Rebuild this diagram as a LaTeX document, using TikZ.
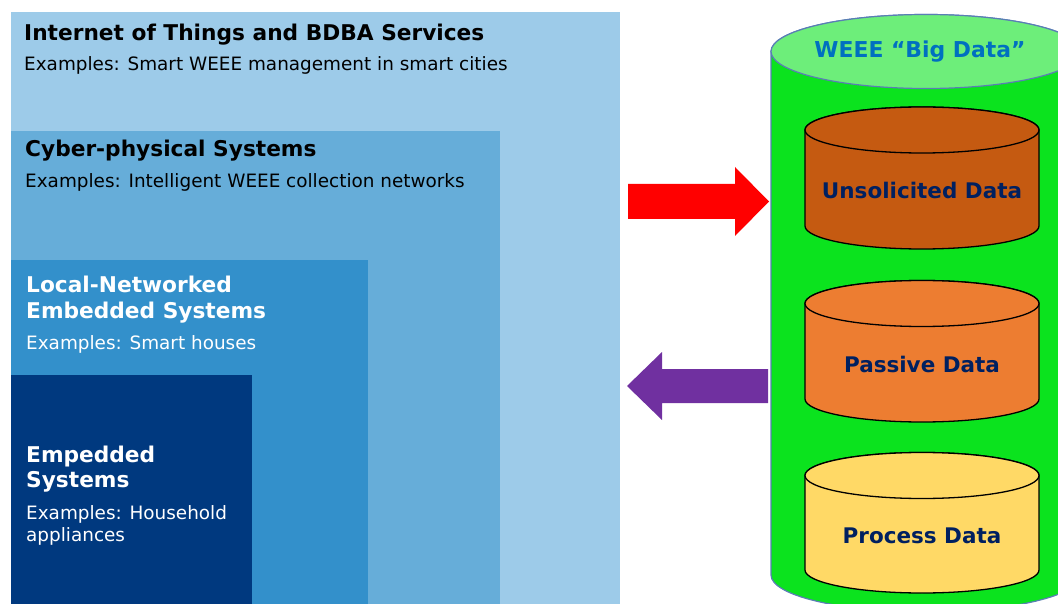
\documentclass[tikz,border=0pt]{standalone}
\usepackage{fontspec}
\setmainfont{DejaVu Sans}
\definecolor{layerA}{HTML}{9DCBE9}
\definecolor{layerB}{HTML}{66ADD9}
\definecolor{layerC}{HTML}{3390CB}
\definecolor{layerD}{HTML}{00397F}
\definecolor{bigbody}{HTML}{0BE31E}
\definecolor{bigtop}{HTML}{6DEE7A}
\definecolor{bigline}{HTML}{5A7EB5}
\definecolor{unsol}{HTML}{C55A11}
\definecolor{passv}{HTML}{ED7D31}
\definecolor{procs}{HTML}{FFD966}
\definecolor{navy}{HTML}{002060}
\definecolor{wblue}{HTML}{0070C0}
\definecolor{arrowred}{HTML}{FF0000}
\definecolor{arrowpurple}{HTML}{7030A0}
\tikzset{
  ttl/.style={font=\fontsize{21.7}{26}\selectfont\bfseries, anchor=base west, inner sep=0pt},
  ex/.style={font=\fontsize{18.4}{22}\selectfont, anchor=base west, inner sep=0pt},
  dblabel/.style={font=\fontsize{21.5}{26}\selectfont\bfseries, text=navy, inner sep=0pt},
}
% cylinder body: #1 centre x, #2 top centre y, #3 bottom centre y, #4 x radius, #5 y radius
\newcommand{\dbbody}[6][]{%
  \path[#1] (#2-#5,#3) -- (#2-#5,#4)
    arc[start angle=180,end angle=360,x radius=#5pt,y radius=#6pt]
    -- (#2+#5,#3)
    arc[start angle=0,end angle=180,x radius=#5pt,y radius=#6pt] -- cycle;
  \path[#1] (#2,#3) ellipse[x radius=#5pt,y radius=#6pt];
}
\begin{document}
\begin{tikzpicture}[x=1pt,y=-1pt]
\useasboundingbox (0,0) rectangle (1058,604);
\clip (0,0) rectangle (1058,604);

% nested layers
\fill[layerA] (11,12) rectangle (620,610);
\fill[layerB] (11,131) rectangle (500,610);
\fill[layerC] (11,260) rectangle (368,610);
\fill[layerD] (11,375) rectangle (252,610);

\node[ttl] (iotT) at (24,41) {Internet of Things and BDBA Services};
\node[ex]  (iotE) at (24,71) {Examples: Smart WEEE management in smart cities};

\node[ttl] (cpsT) at (25,157) {Cyber-physical Systems};
\node[ex]  (cpsE) at (25,188) {Examples: Intelligent WEEE collection networks};

\node[ttl, text=white] (lneT1) at (26,292) {Local-Networked};
\node[ttl, text=white] (lneT2) at (26,318) {Embedded Systems};
\node[ex,  text=white] (lneE)  at (26,349) {Examples: Smart houses};

\node[ttl, text=white] (embT1) at (26,462) {Empedded};
\node[ttl, text=white] (embT2) at (26,487) {Systems};
\node[ex,  text=white] (embE1) at (26,519) {Examples: Household};
\node[ex,  text=white] (embE2) at (26,541) {appliances};

% big data store
\path[fill=bigbody, draw=bigline, line width=1.2pt]
  (771,51.5) -- (771,575)
  arc[start angle=180,end angle=360,x radius=155pt,y radius=37pt]
  -- (1081,51.5)
  arc[start angle=0,end angle=180,x radius=155pt,y radius=37pt] -- cycle;
\path[fill=bigtop, draw=bigline, line width=1.2pt] (926,51.5) ellipse[x radius=155pt,y radius=37pt];
\node[font=\fontsize{21.9}{26}\selectfont\bfseries, text=wblue, inner sep=0pt] (big) at (920,52) {WEEE “Big Data”};

% inner data stores
\foreach \fc/\ty/\by in {unsol/130/226, passv/303.5/399, procs/475.5/570}{
  \path[fill=\fc, draw=black, line width=1.3pt]
    (805,\ty) -- (805,\by)
    arc[start angle=180,end angle=360,x radius=117pt,y radius=23pt]
    -- (1039,\ty)
    arc[start angle=0,end angle=180,x radius=117pt,y radius=23pt] -- cycle;
  \path[fill=\fc, draw=black, line width=1.3pt] (922,\ty) ellipse[x radius=117pt,y radius=23pt];
}
\node[dblabel] (unsolicited) at (922,190) {Unsolicited Data};
\node[dblabel] (passive) at (922,364) {Passive Data};
\node[dblabel] (process) at (922,536) {Process Data};

% block arrows between the layers and the data store
\coordinate (inTail) at (628,201.5);
\coordinate (inTip) at (769,201.5);
\fill[arrowred] (inTail) ++(0,-17.5) -- ++(107,0) -- ++(0,-17) -- (inTip)
  -- ++(-34,34.5) -- ++(0,-17) -- ++(-107,0) -- cycle;

\coordinate (outTail) at (768,386);
\coordinate (outTip) at (627,386);
\fill[arrowpurple] (outTail) ++(0,-17) -- ++(-106,0) -- ++(0,-17) -- (outTip)
  -- ++(35,34) -- ++(0,-17) -- ++(106,0) -- cycle;
\end{tikzpicture}
\end{document}
